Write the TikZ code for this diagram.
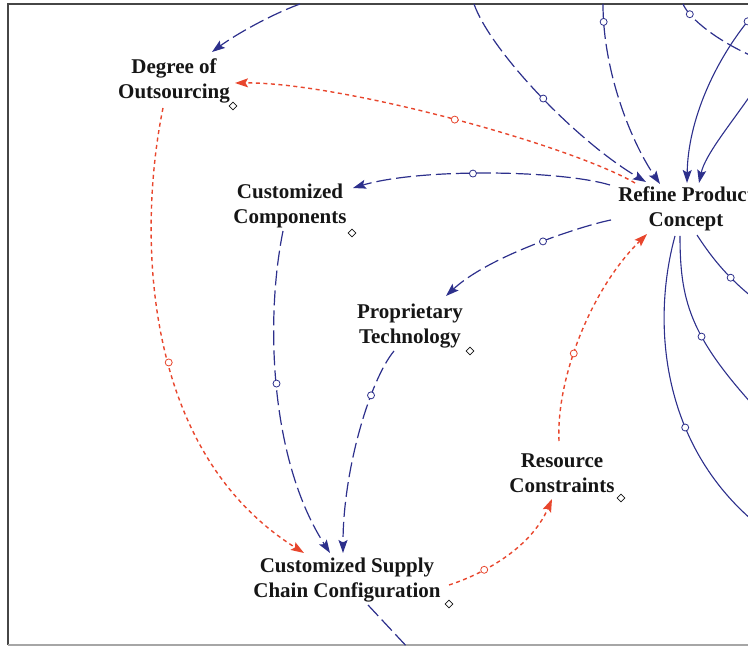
\documentclass[tikz,border=0pt]{standalone}
\usepackage{fontspec}
\setmainfont{Liberation Serif}
\usetikzlibrary{arrows.meta,shapes.geometric}
\definecolor{navy}{RGB}{45,48,140}
\definecolor{linkred}{RGB}{232,70,45}
\definecolor{ink}{RGB}{22,22,22}
\definecolor{framegray}{RGB}{70,70,70}
\begin{document}
\begin{tikzpicture}[x=1pt,y=-1pt,
  var/.style={font=\fontsize{21}{25}\selectfont\bfseries, text=ink, align=center, inner sep=1pt},
  shadowmark/.style={diamond, draw=ink, line width=0.8pt, fill=white, inner sep=0pt, minimum size=8pt},
  hc/.style={circle, solid, draw, fill=white, line width=0.8pt, inner sep=0pt, minimum size=7pt},
  tip/.style={-{Stealth[length=13pt,width=9pt,inset=2.5pt]}},
  bluedash/.style={draw=navy, line width=1.2pt, dash pattern=on 15pt off 5pt},
  bluesolid/.style={draw=navy, line width=1.1pt},
  reddot/.style={draw=linkred, line width=1.4pt, dash pattern=on 4pt off 3.5pt}]
\useasboundingbox (0,0) rectangle (748,647);
\clip (0,0) rectangle (748,647);

% frame
\draw[framegray, line width=2pt] (8,645) -- (8,4) -- (760,4);
\draw[gray!70, line width=2pt] (8,645) -- (760,645);

% variables
\node[var] (deg) at (174,81) {Degree of\\Outsourcing};
\node[var] (cc)  at (290,206) {Customized\\Components};
\node[var] (rpc) at (686,209) {Refine Product\\Concept};
\node[var] (pt)  at (410,326) {Proprietary\\Technology};
\node[var] (rc)  at (562,473) {Resource\\Constraints};
\node[var] (scc) at (347,580) {Customized Supply\\Chain Configuration};

% diamond markers beside the names
\node[shadowmark] (degm) at (233,106) {};
\node[shadowmark] (ccm)  at (352,233) {};
\node[shadowmark] (ptm)  at (470,351) {};
\node[shadowmark] (rcm)  at (621,498) {};
\node[shadowmark] (sccm) at (449,604) {};

% loose ends of links that leave the sheet
\coordinate (inA) at (300,4);
\coordinate (inB) at (474,4);
\coordinate (inC) at (603,4);
\coordinate (inD) at (752,16);
\coordinate (inE) at (752,93);
\coordinate (arcS) at (683,4);
\coordinate (arcE) at (752,56);
\coordinate (outA) at (410,650);
\coordinate (outB) at (752,520);
\coordinate (outC) at (752,404);
\coordinate (outD) at (752,297);

% links into Degree of Outsourcing
\draw[bluedash, tip] (inA) .. controls (270,15) and (235,35) .. ([shift={(38,-29)}]deg.center);
\draw[reddot, tip] ([shift={(-51,-26)}]rpc.center) .. controls (570,145) and (340,82) .. node[hc, pos=0.49] {} ([shift={(61,2)}]deg.center);

% links out of Refine Product Concept
\draw[bluedash, tip] ([shift={(-76,-24)}]rpc.center) .. controls (560,170) and (420,168) .. node[hc, pos=0.55] {} ([shift={(63,-18)}]cc.center);
\draw[bluedash, tip] ([shift={(-75,11)}]rpc.center) .. controls (585,225) and (490,255) .. node[hc, pos=0.46] {} ([shift={(36,-30)}]pt.center);

% reinforcing path through Resource Constraints
\draw[reddot, tip] ([shift={(-3,-32)}]rc.center) .. controls (556,380) and (590,290) .. node[hc, pos=0.42] {} ([shift={(-39,25)}]rpc.center);
\draw[reddot, tip] ([shift={(102,5)}]scc.center) .. controls (480,575) and (530,550) .. node[hc, pos=0.33] {} ([shift={(-10,26)}]rc.center);

% links into Customized Supply Chain Configuration
\draw[reddot, tip] ([shift={(-11,27)}]deg.center) .. controls (138,230) and (140,450) .. node[hc, pos=0.55] {} ([shift={(-43,-27)}]scc.center);
\draw[bluedash, tip] ([shift={(-7,25)}]cc.center) .. controls (265,320) and (270,460) .. node[hc, pos=0.48] {} ([shift={(-17,-27)}]scc.center);
\draw[bluedash, tip] ([shift={(-16,25)}]pt.center) .. controls (370,380) and (343,470) .. node[hc, pos=0.32] {} ([shift={(-4,-27)}]scc.center);
\draw[bluedash] ([shift={(21,25)}]scc.center) -- (outA);

% links arriving at Refine Product Concept from above
\draw[bluedash, tip] (inB) .. controls (490,50) and (575,140) .. node[hc, pos=0.52] {} ([shift={(-40,-27)}]rpc.center);
\draw[bluedash, tip] (inC) .. controls (603,70) and (630,140) .. node[hc, pos=0.09] {} ([shift={(-26,-25)}]rpc.center);
\draw[bluesolid, tip] (inD) .. controls (715,60) and (688,120) .. node[hc, pos=0.04] {} ([shift={(1,-26)}]rpc.center);
\draw[bluesolid, tip] (inE) .. controls (730,125) and (705,155) .. ([shift={(13,-26)}]rpc.center);
\draw[bluedash] (arcS) .. controls (690,20) and (720,42) .. node[hc, pos=0.2] {} (arcE);

% links leaving Refine Product Concept downwards
\draw[bluesolid] ([shift={(-11,27)}]rpc.center) .. controls (652,320) and (660,440) .. node[hc, pos=0.66] {} (outB);
\draw[bluesolid] ([shift={(-6,27)}]rpc.center) .. controls (680,300) and (690,335) .. node[hc, pos=0.62] {} (outC);
\draw[bluesolid] ([shift={(11,26)}]rpc.center) .. controls (710,255) and (725,275) .. node[hc, pos=0.7] {} (outD);
\end{tikzpicture}
\end{document}
